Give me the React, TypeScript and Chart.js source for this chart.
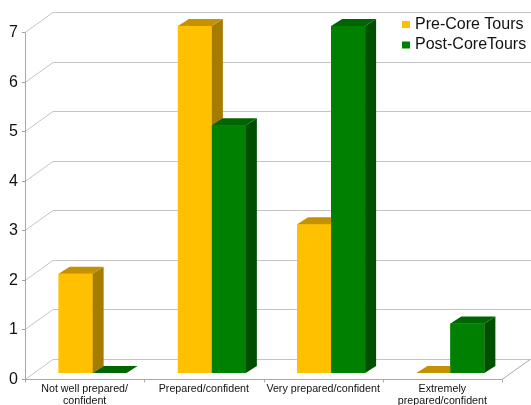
import React, { useEffect, useRef } from 'react';
import { Chart, registerables } from 'chart.js';

Chart.register(...registerables);

const categories: (string | string[])[] = [
  ['Not well prepared/', 'confident'],
  'Prepared/confident',
  'Very prepared/confident',
  ['Extremely', 'prepared/confident'],
];
const preCore = [2, 7, 3, 0];
const postCore = [0, 5, 7, 1];
const yTicks = [0, 1, 2, 3, 4, 5, 6, 7];
const seriesNames = ['Pre-Core Tours', 'Post-CoreTours'];

const FRONT_COLORS = ['#FFC000', '#008000'];
const TOP_COLORS = ['#C49200', '#006400'];
const SIDE_COLORS = ['#A57B00', '#004F00'];

// 3D offsets relative to the bar plane
const FRONT = { x: -8, y: 6 };
const BACK = { x: 20, y: -14 };
const BAR_D = { x: 11, y: -7 };

const FONT = '"Liberation Sans", Arial, Helvetica, sans-serif';

const threeD = {
  id: 'threeD',
  beforeDatasetsDraw(chart: any) {
    const { ctx, chartArea, scales } = chart;
    const xs = scales.x;
    const ys = scales.y;
    const left = chartArea.left;
    const right = chartArea.right;
    const fL = left + FRONT.x;
    const fR = right + FRONT.x;
    ctx.save();
    ctx.lineWidth = 1;
    yTicks.forEach((v) => {
      const py = Math.round(ys.getPixelForValue(v)) + 0.5;
      ctx.strokeStyle = '#C4C4C4';
      ctx.beginPath();
      ctx.moveTo(left + BACK.x, py + BACK.y);
      ctx.lineTo(chart.width, py + BACK.y);
      ctx.stroke();
      ctx.beginPath();
      ctx.moveTo(fL, py + FRONT.y);
      ctx.lineTo(left + BACK.x, py + BACK.y);
      ctx.stroke();
      ctx.strokeStyle = '#A0A0A0';
      ctx.beginPath();
      ctx.moveTo(fL - 3, py + FRONT.y);
      ctx.lineTo(fL, py + FRONT.y);
      ctx.stroke();
      ctx.fillStyle = '#111111';
      ctx.font = '16px ' + FONT;
      ctx.textAlign = 'right';
      ctx.textBaseline = 'middle';
      ctx.fillText(String(v), fL - 7, py + FRONT.y);
    });
    const y0 = Math.round(ys.getPixelForValue(0)) + 0.5;
    const y7 = Math.round(ys.getPixelForValue(7)) + 0.5;
    ctx.strokeStyle = '#A8A8A8';
    ctx.beginPath();
    ctx.moveTo(Math.round(fL) + 0.5, y7 + FRONT.y);
    ctx.lineTo(Math.round(fL) + 0.5, y0 + FRONT.y + 3);
    ctx.stroke();
    ctx.beginPath();
    ctx.moveTo(fL, y0 + FRONT.y);
    ctx.lineTo(fR, y0 + FRONT.y);
    ctx.lineTo(right + BACK.x, y0 + BACK.y);
    ctx.stroke();
    const half = (xs.getPixelForValue(1) - xs.getPixelForValue(0)) / 2;
    categories.forEach((c, i) => {
      const cx = xs.getPixelForValue(i);
      const bx = Math.round(cx + half + FRONT.x) + 0.5;
      ctx.strokeStyle = '#A8A8A8';
      ctx.beginPath();
      ctx.moveTo(bx, y0 + FRONT.y);
      ctx.lineTo(bx, y0 + FRONT.y + 3);
      ctx.stroke();
      const lines = Array.isArray(c) ? c : [c];
      ctx.fillStyle = '#111111';
      ctx.font = '10.7px ' + FONT;
      ctx.textAlign = 'center';
      ctx.textBaseline = 'middle';
      lines.forEach((ln, j) => {
        ctx.fillText(ln, cx + FRONT.x, y0 + FRONT.y + 10 + j * 12);
      });
    });
    ctx.restore();
  },
  afterDatasetsDraw(chart: any) {
    const { ctx } = chart;
    ctx.save();
    chart.data.datasets.forEach((_d: any, di: number) => {
      const meta = chart.getDatasetMeta(di);
      meta.data.forEach((bar: any) => {
        bar.draw(ctx);
        const p = bar.getProps(['x', 'y', 'base', 'width'], true);
        const l = p.x - p.width / 2;
        const r = p.x + p.width / 2;
        const top = p.y;
        const base = p.base;
        ctx.fillStyle = SIDE_COLORS[di];
        ctx.beginPath();
        ctx.moveTo(r, top);
        ctx.lineTo(r + BAR_D.x, top + BAR_D.y);
        ctx.lineTo(r + BAR_D.x, base + BAR_D.y);
        ctx.lineTo(r, base);
        ctx.closePath();
        ctx.fill();
        ctx.fillStyle = TOP_COLORS[di];
        ctx.beginPath();
        ctx.moveTo(l, top);
        ctx.lineTo(l + BAR_D.x, top + BAR_D.y);
        ctx.lineTo(r + BAR_D.x, top + BAR_D.y);
        ctx.lineTo(r, top);
        ctx.closePath();
        ctx.fill();
      });
    });
    ctx.restore();
  },
  afterDraw(chart: any) {
    const { ctx } = chart;
    ctx.save();
    seriesNames.forEach((name, i) => {
      const cy = 24.5 + i * 20.5;
      ctx.fillStyle = FRONT_COLORS[i];
      ctx.fillRect(402, cy - 3.5, 8, 7);
      ctx.fillStyle = '#111111';
      ctx.font = '16px ' + FONT;
      ctx.textAlign = 'left';
      ctx.textBaseline = 'middle';
      ctx.fillText(name, 415, cy);
    });
    ctx.restore();
  },
};

export default function App() {
  const ref = useRef<HTMLCanvasElement | null>(null);
  useEffect(() => {
    if (!ref.current) return;
    const chart = new Chart(ref.current, {
      type: 'bar',
      data: {
        labels: categories as any,
        datasets: [
          {
            label: seriesNames[0],
            data: preCore,
            backgroundColor: FRONT_COLORS[0],
            borderWidth: 0,
            categoryPercentage: 0.57,
            barPercentage: 1,
          },
          {
            label: seriesNames[1],
            data: postCore,
            backgroundColor: FRONT_COLORS[1],
            borderWidth: 0,
            categoryPercentage: 0.57,
            barPercentage: 1,
          },
        ],
      },
      options: {
        responsive: false,
        animation: false,
        devicePixelRatio: 1,
        layout: { padding: { left: 33, right: 21, top: 26, bottom: 32 } },
        scales: {
          x: { display: false },
          y: { display: false, min: 0, max: 7 },
        },
        plugins: {
          legend: { display: false },
          tooltip: { enabled: false },
        },
        datasets: { bar: { clip: false as any } },
      } as any,
      plugins: [threeD],
    });
    return () => chart.destroy();
  }, []);
  return (
    <div style={{ position: 'absolute', left: 0, top: 0, width: 531, height: 405, background: '#ffffff' }}>
      <canvas ref={ref} width={531} height={405} style={{ display: 'block' }} />
    </div>
  );
}
